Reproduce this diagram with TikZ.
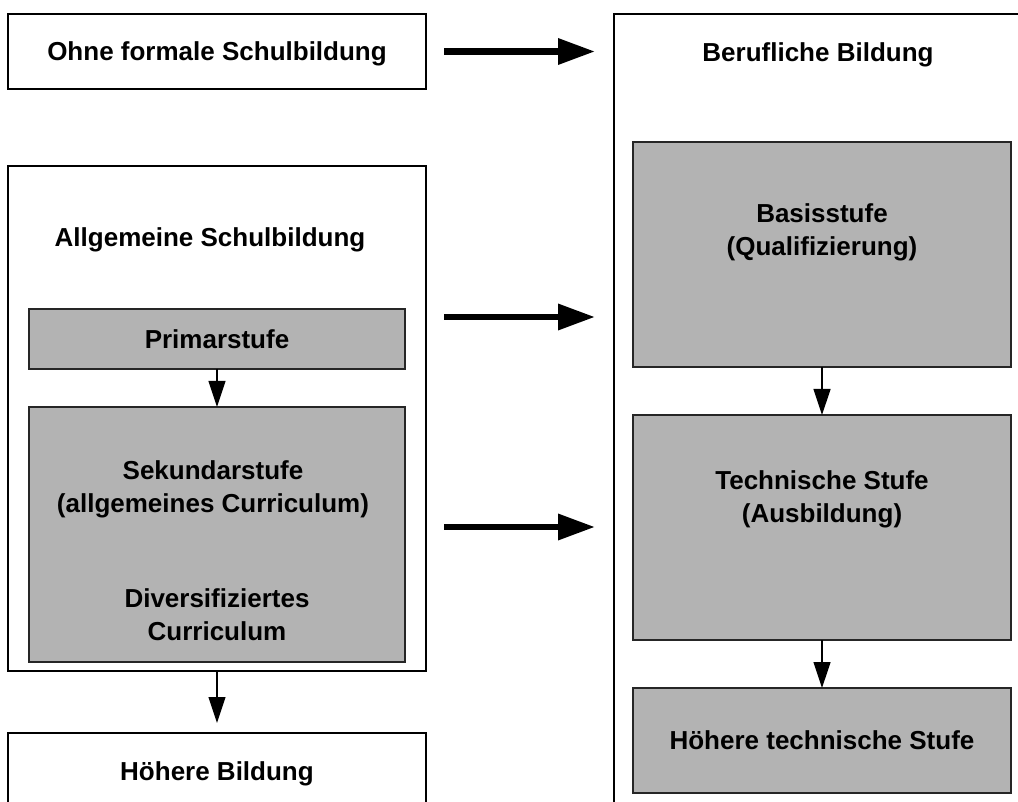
\documentclass[tikz,border=0pt]{standalone}
\usepackage{fontspec}
\setmainfont{Liberation Sans}
\usepackage{tikz}
\usetikzlibrary{arrows.meta, positioning}
\definecolor{stufegray}{RGB}{179,179,179}
\tikzstyle{outerbox} = [rectangle, draw=black, line width=1.2pt,
fill=white, inner sep=0pt, outer sep=0pt,
font=\bfseries\fontsize{26}{33}\selectfont]
\tikzstyle{stufebox} = [rectangle, draw=black!85, line width=1.6pt,
fill=stufegray, inner sep=0pt, outer sep=0pt,
minimum width=376pt, align=center,
font=\bfseries\fontsize{26}{33}\selectfont]
\tikzstyle{textlabel} = [inner sep=0pt, align=center,
font=\bfseries\fontsize{26}{33}\selectfont]
\tikzstyle{bigarrow} = [-{Triangle[length=37pt, width=25pt]}, line width=6.5pt,
shorten <=18pt, shorten >=19pt]
\tikzstyle{smallarrow} = [-{Triangle[length=26pt, width=17pt]}, line width=1.2pt]

\begin{document}
\begin{tikzpicture}[x=1pt, y=-1pt]
    \useasboundingbox (0,0) rectangle (1018,802);

    % left column
    \node (ohne)   [outerbox, minimum width=418pt, minimum height=75pt, text depth=0pt] at (217,51.5) {Ohne formale Schulbildung};
    \node (allg)   [outerbox, minimum width=418pt, minimum height=505pt] at (217,418.5) {};
    \node (allglabel) [textlabel] at (210,240) {Allgemeine Schulbildung};
    \node (prim)   [stufebox, minimum height=60pt] at (217,339) {Primarstufe};
    \node (sek)    [stufebox, minimum height=255pt, below=38pt of prim] {};
    \node (seklabel) [textlabel] at (213,489) {Sekundarstufe\\(allgemeines Curriculum)};
    \node (divlabel) [textlabel] at (217,614.5) {Diversifiziertes\\Curriculum};
    \node (hoeher) [outerbox, minimum width=418pt, minimum height=100pt] at (217,783) {};
    \node (hoeherlabel) [textlabel] at (217,774) {Höhere Bildung};

    % right column
    \node (beruf)  [outerbox, minimum width=416pt, minimum height=820pt] at (822,424) {};
    \node (beruflabel) [textlabel] at (818,55) {Berufliche Bildung};
    \node (basis)  [stufebox, minimum width=378pt, minimum height=225pt] at (822,254.5) {};
    \node (basislabel) [textlabel] at (822,232) {Basisstufe\\(Qualifizierung)};
    \node (tech)   [stufebox, minimum width=378pt, minimum height=225pt, below=48pt of basis] {};
    \node (techlabel) [textlabel] at (822,499) {Technische Stufe\\(Ausbildung)};
    \node (hts)    [stufebox, minimum width=378pt, minimum height=105pt, below=48pt of tech] {Höhere technische Stufe};

    \draw[bigarrow] (ohne.east) -- (ohne.east -| beruf.west);
    \draw[bigarrow] ([yshift=22pt]prim.east -| allg.east) -- ([yshift=22pt]prim.east -| beruf.west);
    \draw[bigarrow] ([yshift=7.5pt]sek.east -| allg.east) -- ([yshift=7.5pt]sek.east -| beruf.west);

    \draw[smallarrow] (prim) -- (sek);
    \draw[smallarrow, shorten >=10pt] (allg) -- (hoeher);
    \draw[smallarrow] (basis) -- (tech);
    \draw[smallarrow] (tech) -- (hts);
\end{tikzpicture}
\end{document}
